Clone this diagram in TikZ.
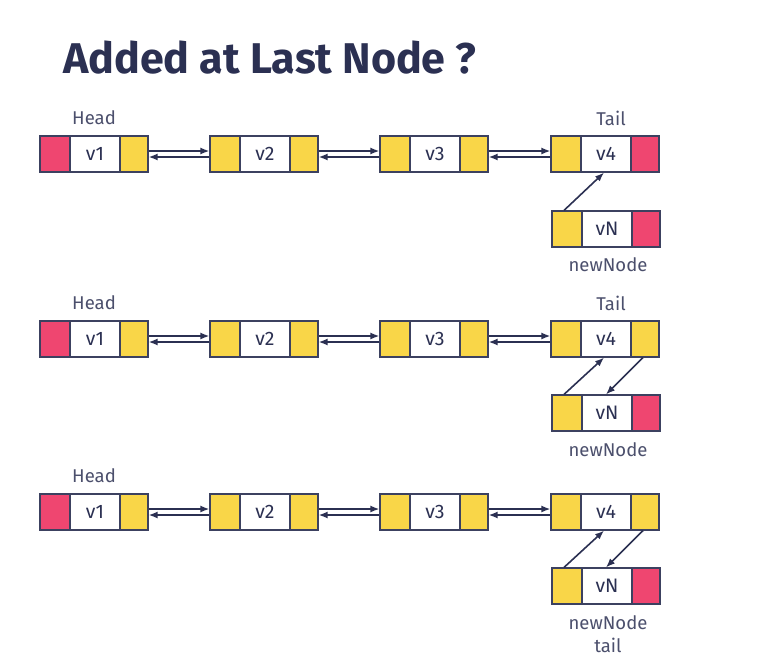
\documentclass[tikz,border=0pt]{standalone}
\usepackage{fontspec}
\setmainfont{Fira Sans}
\usetikzlibrary{arrows.meta}
\definecolor{navy}{HTML}{2B3052}
\definecolor{edge}{HTML}{3C4160}
\definecolor{cred}{HTML}{EF4670}
\definecolor{cyel}{HTML}{F9D648}
\tikzset{
  cell/.style={draw=edge, line width=1.2pt, inner sep=0pt, minimum height=36pt, text=navy, font=\fontsize{19.5}{22}\selectfont},
  lcell/.style={cell, minimum width=30pt},
  mcell/.style={cell, minimum width=50pt, fill=white},
  rcell/.style={cell, minimum width=28pt},
  lbl/.style={text=navy!85!white, font=\fontsize{18.5}{22}\selectfont, inner sep=0pt},
  link/.style={draw=navy, line width=1.6pt, -{Latex[length=9pt,width=7pt]}},
}
% \llnode{name}{left x}{top y}{left colour}{text}{right colour}
\newcommand{\llnode}[6]{%
  \node[lcell, fill=#4] (#1-l) at (#2+15,#3+18) {};
  \node[mcell] (#1-m) at (#2+55,#3+18) {#5};
  \node[rcell, fill=#6] (#1-r) at (#2+94,#3+18) {};
}
\newcommand{\biarrow}[2]{%
  \draw[link] ([yshift=3pt]#1-r.east) -- ([yshift=3pt]#2-l.west);
  \draw[link] ([yshift=-3pt]#2-l.west) -- ([yshift=-3pt]#1-r.east);
}
\begin{document}
\begin{tikzpicture}[x=1pt,y=-1pt]
\useasboundingbox[fill=white] (0,0) rectangle (783,664);
\node[anchor=base west, inner sep=0pt, text=navy, font=\fontsize{43}{50}\selectfont\bfseries] (title) at (63,73) {Added at Last Node ?};

% ---- row 1
\node[lbl] (h1) at (94,118) {Head};
\node[lbl] (t1) at (611,118) {Tail};
\llnode{a1}{40}{136}{cred}{v1}{cyel}
\llnode{a2}{210}{136}{cyel}{v2}{cyel}
\llnode{a3}{380}{136}{cyel}{v3}{cyel}
\llnode{a4}{551}{136}{cyel}{v4}{cred}
\llnode{aN}{552}{211}{cyel}{vN}{cred}
\node[lbl] (nn1) at (608,265) {newNode};
\biarrow{a1}{a2}
\biarrow{a2}{a3}
\biarrow{a3}{a4}
\draw[link] ([xshift=-3pt]aN-l.north) -- ([xshift=-2pt]a4-m.south);

% ---- row 2
\node[lbl] (h2) at (94,303) {Head};
\node[lbl] (t2) at (611,303) {Tail};
\llnode{b1}{40}{321}{cred}{v1}{cyel}
\llnode{b2}{210}{321}{cyel}{v2}{cyel}
\llnode{b3}{380}{321}{cyel}{v3}{cyel}
\llnode{b4}{551}{321}{cyel}{v4}{cyel}
\llnode{bN}{552}{395}{cyel}{vN}{cred}
\node[lbl] (nn2) at (608,450) {newNode};
\biarrow{b1}{b2}
\biarrow{b2}{b3}
\biarrow{b3}{b4}
\draw[link] ([xshift=-3pt]bN-l.north) -- ([xshift=-2pt]b4-m.south);
\draw[link] ([xshift=-2pt]b4-r.south) -- ([xshift=-1pt]bN-m.north);

% ---- row 3
\node[lbl] (h3) at (94,476) {Head};
\llnode{c1}{40}{494}{cred}{v1}{cyel}
\llnode{c2}{210}{494}{cyel}{v2}{cyel}
\llnode{c3}{380}{494}{cyel}{v3}{cyel}
\llnode{c4}{551}{494}{cyel}{v4}{cyel}
\llnode{cN}{552}{568}{cyel}{vN}{cred}
\node[lbl] (nn3) at (608,623) {newNode};
\node[lbl] (tl3) at (608,645) {tail};
\biarrow{c1}{c2}
\biarrow{c2}{c3}
\biarrow{c3}{c4}
\draw[link] ([xshift=-3pt]cN-l.north) -- ([xshift=-2pt]c4-m.south);
\draw[link] ([xshift=-2pt]c4-r.south) -- ([xshift=-1pt]cN-m.north);
\end{tikzpicture}
\end{document}
